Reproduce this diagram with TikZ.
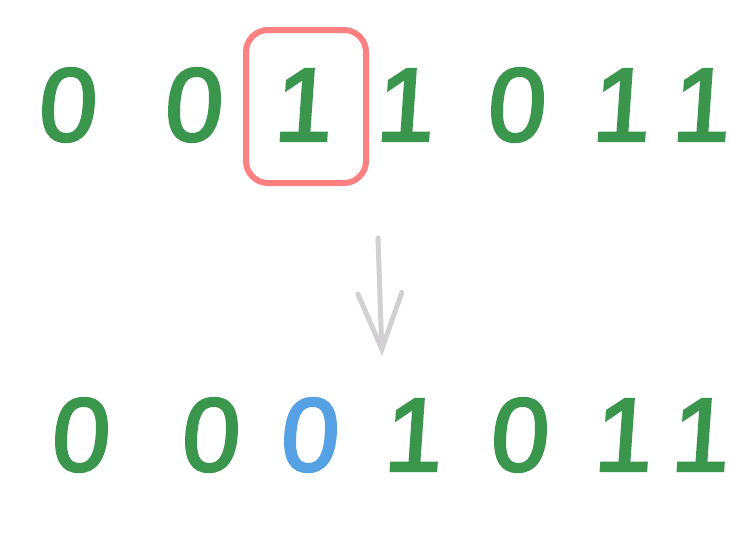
\documentclass[tikz,border=0pt]{standalone}
\usepackage{fontspec}
\setmainfont{Liberation Sans}
\newfontfamily\bitfont[FakeSlant=0.07, FakeBold=2.6]{Liberation Sans}
\usetikzlibrary{arrows.meta}
\definecolor{bitgreen}{HTML}{3A964C}
\definecolor{bitblue}{HTML}{56A0E4}
\definecolor{boxred}{HTML}{FF8080}
\definecolor{arrowgray}{HTML}{D2D0D2}
\tikzset{
  digit/.style={text=bitgreen, font=\bitfont\fontsize{104}{104}\selectfont, inner sep=0pt},
  flipped/.style={digit, text=bitblue},
  markbox/.style={draw=boxred, line width=6pt, rounded corners=22pt, line join=round}
}
\begin{document}
\begin{tikzpicture}[x=1pt, y=-1pt]
\useasboundingbox (0,0) rectangle (753,547);
% top row
\node[digit] (t1) at (66,105) {0};
\node[digit] (t2) at (192,105) {0};
\node[digit] (t3) at (302,105) {1};
\node[digit] (t4) at (404,105) {1};
\node[digit] (t5) at (515,105) {0};
\node[digit] (t6) at (620,105) {1};
\node[digit] (t7) at (700,105) {1};
\draw[markbox] (246,30) rectangle (366,183);

% arrow
\coordinate (a1) at (378,238);
\coordinate (a2) at (382,356);
\draw[arrowgray, line width=5pt, line cap=round, -{Straight Barb[length=56pt, width=44pt, line cap=round]}] (a1) -- (a2);

% bottom row
\node[digit] (b1) at (79,435) {0};
\node[digit] (b2) at (209,435) {0};
\node[flipped] (b3) at (308,435) {0};
\node[digit] (b4) at (412,435) {1};
\node[digit] (b5) at (518,435) {0};
\node[digit] (b6) at (622,435) {1};
\node[digit] (b7) at (699,435) {1};
\end{tikzpicture}
\end{document}
